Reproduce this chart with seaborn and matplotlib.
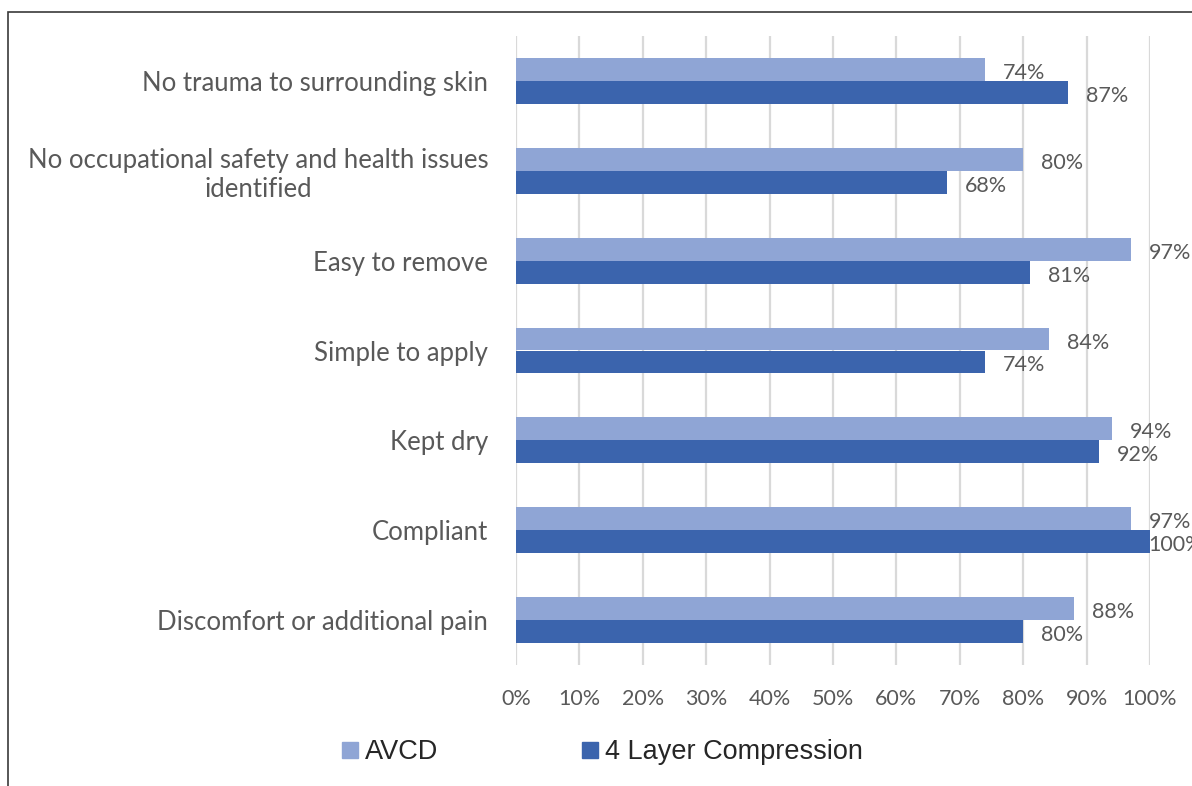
import numpy as np
import pandas as pd
import matplotlib
matplotlib.use("Agg")
import matplotlib.pyplot as plt
import seaborn as sns
from matplotlib.patches import Rectangle
from matplotlib.lines import Line2D

# Chart data
categories = [
    "No trauma to surrounding skin",
    "No occupational safety and health issues\nidentified",
    "Easy to remove",
    "Simple to apply",
    "Kept dry",
    "Compliant",
    "Discomfort or additional pain",
]
avcd = [74, 80, 97, 84, 94, 97, 88]
compression = [87, 68, 81, 74, 92, 100, 80]
series_names = ["AVCD", "4 Layer Compression"]
tick_values = list(range(0, 101, 10))

colors = {"AVCD": "#8FA5D5", "4 Layer Compression": "#3B64AD"}
text_grey = "#595959"

df = pd.DataFrame({
    "category": categories * 2,
    "series": [series_names[0]] * len(categories) + [series_names[1]] * len(categories),
    "value": avcd + compression,
})

sns.set_style("white")
plt.rcParams["font.family"] = ["Lato", "DejaVu Sans"]

fig = plt.figure(figsize=(11.92, 7.86), dpi=100)
ax = fig.add_axes([516 / 1192, 1 - 665 / 786, (1150 - 516) / 1192, (665 - 36) / 786])

sns.barplot(data=df, y="category", x="value", hue="series", order=categories,
            hue_order=series_names, palette=colors, orient="h", width=0.51,
            gap=0, saturation=1, linewidth=0, ax=ax, legend=False)

ax.set_xlim(0, 100)
ax.set_ylim(len(categories) - 0.5, -0.5)
ax.set_xticks(tick_values)
ax.set_xticklabels([f"{v}%" for v in tick_values], fontsize=15.5, color=text_grey)
ax.tick_params(axis="x", length=0, pad=17)
ax.tick_params(axis="y", length=0, pad=20)
for lbl in ax.get_yticklabels():
    lbl.set_fontsize(18.5)
    lbl.set_color(text_grey)
    lbl.set_horizontalalignment("right")
    lbl.set_multialignment("center")
ax.set_xlabel("")
ax.set_ylabel("")
ax.grid(axis="x", color="#D9D9D9", linewidth=1.6)
ax.set_axisbelow(True)
for s in ax.spines.values():
    s.set_visible(False)

# data labels, pulled inside when the bar reaches the axis end
for container in ax.containers:
    for bar, v in zip(container, container.datavalues):
        dx = -1 if v >= 100 else 13
        ax.annotate(f"{v:.0f}%", xy=(bar.get_width(), bar.get_y() + bar.get_height() / 2),
                    xytext=(dx, -2.5), textcoords="offset points", ha="left", va="center",
                    fontsize=15.5, color=text_grey, annotation_clip=False)

# frame around the figure (left and top edges visible)
fig.patches.append(Rectangle((8 / 1192, -0.1), 1.2, (786 - 12) / 786 + 0.1,
                             transform=fig.transFigure, fill=False,
                             edgecolor="#3a3a3a", linewidth=1.2))

handles = [Line2D([], [], marker="s", linestyle="none", markersize=11,
                  markerfacecolor=colors[n], markeredgecolor=colors[n]) for n in series_names]
fig.legend(handles, series_names, loc="center left", bbox_to_anchor=(318 / 1192, 1 - 752 / 786),
           ncol=2, frameon=False, handlelength=0.6, handletextpad=0.25, columnspacing=5.3,
           prop={"family": ["Liberation Sans", "DejaVu Sans"], "size": 19.5})

fig.savefig("out.png", dpi=100, facecolor="white")
